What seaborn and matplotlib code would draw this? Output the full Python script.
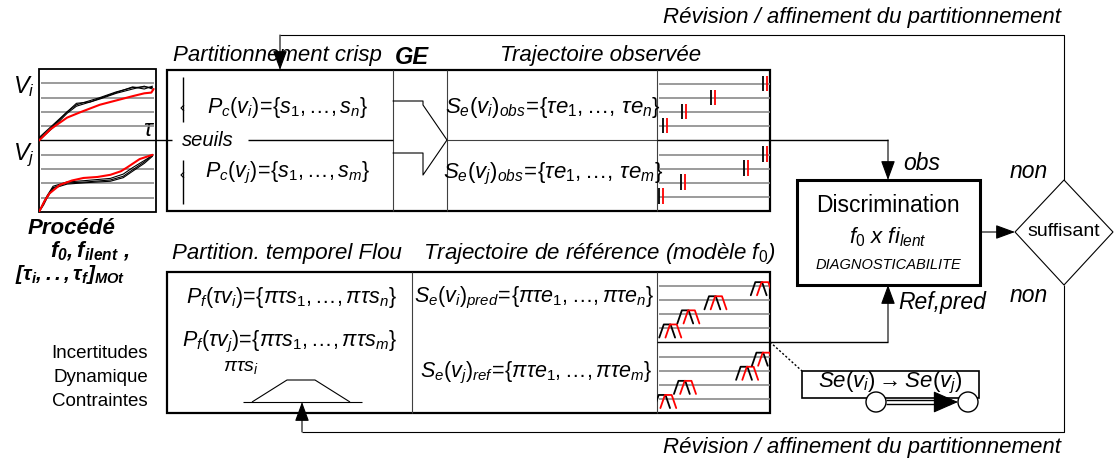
import numpy as np
import seaborn as sns
import matplotlib.pyplot as plt
from matplotlib.patches import Rectangle, Polygon, Circle

sns.set_theme(style="white")
plt.rcParams['font.family'] = ['Liberation Sans', 'DejaVu Sans']
plt.rcParams['mathtext.fontset'] = 'custom'
plt.rcParams['mathtext.rm'] = 'Liberation Sans'
plt.rcParams['mathtext.it'] = 'Liberation Sans:italic'
plt.rcParams['mathtext.bf'] = 'Liberation Sans:bold:italic'

# process curves, time 0-10 ; v_i lives in 5-10, v_j in 0-5
vi_red_t = [0, 1.0, 2.4, 3.6, 5.2, 6.6, 8.0, 9.0, 9.6, 9.8]
vi_red_v = [5.0, 5.8, 6.6, 7.0, 7.5, 7.8, 8.1, 8.3, 8.35, 8.6]
vi_blk_t = [0, 1.2, 2.4, 3.2, 4.4, 5.2, 6.6, 8.0, 9.0, 9.7]
vi_blk_v = [[5.1, 6.0, 7.0, 7.5, 7.8, 8.0, 8.4, 8.7, 8.75, 8.7],
            [5.2, 6.1, 7.0, 7.6, 7.7, 7.9, 8.3, 8.6, 8.8, 8.6],
            [5.0, 5.9, 6.9, 7.4, 7.7, 7.95, 8.35, 8.75, 8.6, 8.8]]
vj_red_t = [0, 0.5, 0.9, 1.8, 2.8, 3.8, 5.0, 6.1, 7.0, 7.5, 8.6, 9.7]
vj_red_v = [0.0, 0.8, 1.3, 1.9, 2.2, 2.38, 2.45, 2.6, 2.85, 3.1, 3.7, 4.0]
vj_blk_t = [0, 0.4, 0.7, 1.2, 2.4, 4.0, 6.1, 7.2, 8.0, 9.0, 9.7]
vj_blk_v = [[0.0, 0.6, 1.05, 1.7, 2.03, 2.1, 2.24, 2.5, 2.95, 3.5, 4.0],
            [0.0, 0.7, 1.15, 1.8, 2.1, 2.2, 2.35, 2.65, 3.1, 3.6, 3.95],
            [0.0, 0.5, 1.0, 1.65, 1.95, 2.05, 2.15, 2.4, 2.85, 3.4, 3.9]]
levels_i = [6, 7, 8, 9]
levels_j = [1, 2, 3, 4]

# observed crisp events (black / red pairs)
obs_i_t = [0.55, 2.2, 4.8, 9.4]
obs_j_t = [0.2, 2.1, 7.7, 9.4]
obs_shift = 0.35
# fuzzy reference events
ref_i_t = [0.9, 2.5, 4.9, 9.0]
ref_j_t = [0.45, 2.2, 7.7, 9.1]
ref_shift = 0.55

W, H = 1115, 459
fig = plt.figure(figsize=(W / 100, H / 100), dpi=100)
ax = fig.add_axes([0, 0, 1, 1])
ax.set_xlim(0, W)
ax.set_ylim(H, 0)
ax.axis('off')

GREY = '#8a8a8a'
DARK = '#404040'


def seg(xs, ys, lw=0.8, color='black', **kw):
    ax.plot(xs, ys, color=color, lw=lw, solid_capstyle='butt', **kw)


def arrow(x0, y0, x1, y1, hl=0.6, hw=0.22):
    ax.annotate('', xy=(x1, y1), xytext=(x0, y0),
                arrowprops=dict(arrowstyle=f'-|>,head_length={hl},head_width={hw}',
                                color='black', lw=0.8, shrinkA=0, shrinkB=0,
                                mutation_scale=20))


def txt(x, y, s, size=16, style='italic', weight='normal', ha='center', **kw):
    ax.text(x, y, s, fontsize=size, fontstyle=style, fontweight=weight,
            ha=ha, va='center', color='black', **kw)


def inset(x0, y0, x1, y1):
    a = fig.add_axes([x0 / W, 1 - y1 / H, (x1 - x0) / W, (y1 - y0) / H])
    a.patch.set_alpha(0)
    return a


def finish(a):
    a.set_xlim(0, 10)
    a.set_ylim(0, 10)
    a.axis('off')


# ---------------- left process panel
ax.add_patch(Rectangle((39, 69), 117, 143, fill=False, lw=1.3, ec='black'))
pa = inset(39, 69, 156, 212)
pa.hlines(levels_i + levels_j, 0.2, 9.8, color=GREY, lw=1.2)
for v in vi_blk_v:
    sns.lineplot(x=vi_blk_t, y=v, ax=pa, color='black', lw=0.8, sort=False, estimator=None)
sns.lineplot(x=vi_red_t, y=vi_red_v, ax=pa, color='red', lw=1.5, sort=False, estimator=None)
for v in vj_blk_v:
    sns.lineplot(x=vj_blk_t, y=v, ax=pa, color='black', lw=0.8, sort=False, estimator=None)
sns.lineplot(x=vj_red_t, y=vj_red_v, ax=pa, color='red', lw=1.5, sort=False, estimator=None)
finish(pa)

txt(24, 87, '$V_i$', size=17, ha='center')
txt(24, 155, '$V_j$', size=17, ha='center')
txt(149, 130, r'$\tau$', size=17)
txt(72, 229, 'Procédé', size=16, weight='bold')
txt(90, 251, r'$\mathbf{f_0, f_{ilent}}$ ,', size=16, weight='bold')
txt(70, 274, r'$\mathbf{[\tau_i,.., \tau_f]_{MOt}}$', size=15, weight='bold')
for k, s in enumerate(['Incertitudes', 'Dynamique', 'Contraintes']):
    txt(148, 354 + 23.5 * k, s, size=13.5, style='normal', ha='right')

# ---------------- top block (crisp)
ax.add_patch(Rectangle((167, 70), 603, 141, fill=False, lw=1.6, ec='black'))
for x in (393, 447, 657):
    seg([x, x], [70, 211], lw=0.8, color=DARK)
seg([39, 172], [140, 140], lw=1.0)
seg([248, 393], [140, 140], lw=1.0)
seg([447, 657], [140, 140], lw=0.8, color=DARK)
txt(208, 140, 'seuils', size=14.5)
for y0, y1, yn in ((77, 122, 108), (160, 204, 175)):
    seg([183, 183], [y0, y1], lw=1.0)
    seg([184, 181, 184], [yn - 3, yn, yn + 3], lw=0.8)
txt(288, 107, r'$P_c(v_i)\!=\!\{s_1,…,s_n\}$', size=15.5)
txt(288, 173, r'$P_c(v_j)\!=\!\{s_1,…,s_m\}$', size=15.5)
txt(173, 55, 'Partitionnement crisp', size=16, ha='left')
txt(412, 57, 'GE', size=17, weight='bold')
txt(500, 55, 'Trajectoire observée', size=16, ha='left')
ax.add_line(plt.Line2D([393, 423, 423, 447, 423, 423, 393],
                       [101, 101, 105, 140, 175, 153, 153], color='black', lw=0.8))
txt(553, 107, r'$S_e(v_i)_{obs}\!=\!\{\tau e_1,…,\,\tau e_n\}$', size=16)
txt(553, 174, r'$S_e(v_j)_{obs}\!=\!\{\tau e_1,…,\,\tau e_m\}$', size=16)

oa = inset(657, 70, 770, 211)
oa.hlines(levels_i + levels_j, 0.15, 10, color=GREY, lw=1.2)
for ts, lv in ((obs_i_t, levels_i), (obs_j_t, levels_j)):
    oa.vlines(ts, np.array(lv) - 0.5, np.array(lv) + 0.6, color='black', lw=1.3)
    oa.vlines(np.array(ts) + obs_shift, np.array(lv) - 0.5, np.array(lv) + 0.6, color='red', lw=1.3)
finish(oa)
seg([657, 888], [140, 140], lw=1.0)
arrow(888, 140, 888, 180)
txt(903, 163, 'obs', size=16.5, ha='left')

# ---------------- bottom block (fuzzy)
ax.add_patch(Rectangle((167, 272), 603, 141, fill=False, lw=1.6, ec='black'))
for x in (412, 657):
    seg([x, x], [272, 413], lw=0.8, color=DARK)
txt(172, 253, 'Partition. temporel Flou', size=16, ha='left')
txt(423, 253, r'Trajectoire de référence (modèle $f_0$)', size=16, ha='left')
txt(291, 298, r'$P_f(\tau v_i)\!=\!\{\pi\tau s_1,…,\pi\tau s_n\}$', size=15.5)
txt(289, 342, r'$P_f(\tau v_j)\!=\!\{\pi\tau s_1,…,\pi\tau s_m\}$', size=15.5)
txt(241, 367, r'$\pi\tau s_i$', size=14)
seg([243, 362], [402, 402], lw=0.8)
seg([252, 287, 315, 350], [402, 380, 380, 402], lw=0.8)
txt(534, 298, r'$S_e(v_i)_{pred}\!=\!\{\pi\tau e_1,…,\pi\tau e_n\}$', size=15.5)
txt(536, 373, r'$S_e(v_j)_{ref}\!=\!\{\pi\tau e_1,…,\pi\tau e_m\}$', size=15.5)

ra = inset(657, 272, 770, 413)
ra.hlines(levels_i + levels_j, 0.15, 10, color=GREY, lw=1.2)
for ts, lv in ((ref_i_t, levels_i), (ref_j_t, levels_j)):
    for t, l in zip(ts, lv):
        for c, d in (('black', 0), ('red', ref_shift)):
            ra.plot([t + d - 0.7, t + d - 0.3, t + d + 0.3, t + d + 0.7],
                    [l - 0.65, l + 0.28, l + 0.28, l - 0.65], color=c, lw=1.3)
finish(ra)
seg([657, 888], [342, 342], lw=1.0)
arrow(888, 342, 888, 285)
txt(898, 303, 'Ref,pred', size=16.5, ha='left')
seg([770, 802], [342, 371], lw=1.0, ls=(0, (1.5, 1.5)))

# small graph box
ax.add_patch(Rectangle((802, 371), 177, 27, fill=False, lw=1.2, ec='black'))
txt(890, 383, r'$Se(v_i)\rightarrow Se(v_j)$', size=16)
seg([886, 950], [400, 400], lw=1.0)
seg([886, 950], [404, 404], lw=1.0)
arrow(940, 402, 958, 402, hl=0.8, hw=0.35)
for cx in (876, 968):
    ax.add_patch(Circle((cx, 402), 10, fc='white', ec='black', lw=1.0, zorder=5))

# ---------------- discrimination & decision
ax.add_patch(Rectangle((797, 180), 183, 105, fill=False, lw=2.2, ec='black'))
txt(888, 206, 'Discrimination', size=16.5, style='normal')
txt(888, 237, r'$f_0\ x\ fi_{lent}$', size=16)
txt(888, 265, 'DIAGNOSTICABILITE', size=10.5)
arrow(980, 232, 1015, 232)
ax.add_patch(Polygon([(1015, 232), (1064, 180), (1113, 232), (1064, 285)],
                     closed=True, fill=False, lw=0.8, ec='black'))
txt(1064, 232, 'suffisant', size=14, style='normal')
txt(1029, 172, 'non', size=16.5)
txt(1029, 295, 'non', size=16.5)

# feedback loops
seg([1064, 1064, 280], [180, 35, 35], lw=0.8)
arrow(280, 35, 280, 70)
seg([1064, 1064, 302], [285, 432, 432], lw=0.8)
arrow(302, 432, 302, 402)
txt(1061, 17, 'Révision / affinement du partitionnement', size=16, ha='right')
txt(1061, 447, 'Révision / affinement du partitionnement', size=16, ha='right')

fig.savefig('out.png', dpi=100, facecolor='white')
